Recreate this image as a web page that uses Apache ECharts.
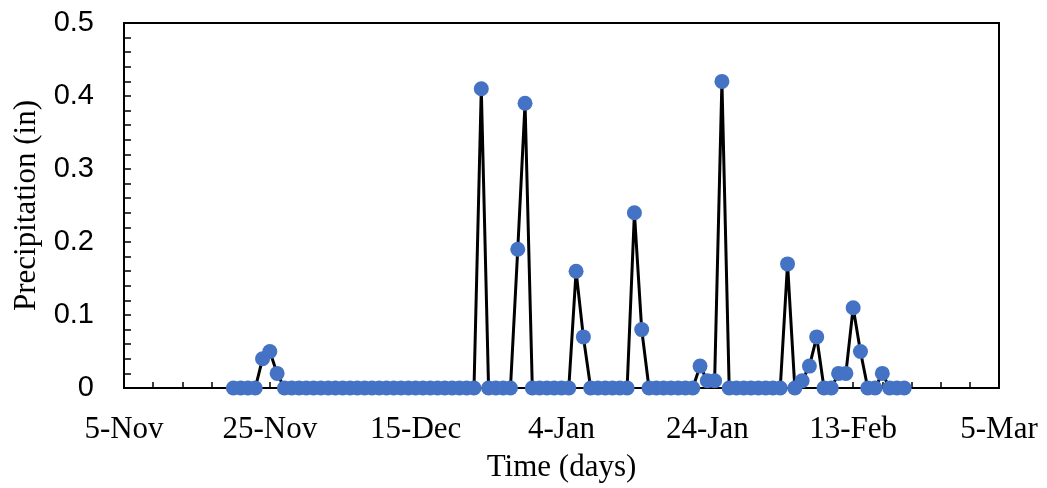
<!DOCTYPE html>
<html>
<head>
<meta charset="utf-8">
<style>
  html, body { margin: 0; padding: 0; background: #fff; }
  #chart { width: 1047px; height: 488px; }
</style>
<script src="https://cdn.jsdelivr.net/npm/echarts@6/dist/echarts.min.js"></script>
</head>
<body>
<div id="chart"></div>
<script>
// Daily precipitation, one value per day starting on firstDay
const axisStart = '2018-11-05';
const firstDay = '2018-11-20';
const precipIn = [
  0, 0, 0, 0, 0.04, 0.05, 0.02,                 // 20-Nov .. 26-Nov
  0, 0, 0, 0,                                   // 27-Nov .. 30-Nov
  0, 0, 0, 0, 0, 0, 0, 0, 0, 0,                 // 1-Dec .. 10-Dec
  0, 0, 0, 0, 0, 0, 0, 0, 0, 0,                 // 11-Dec .. 20-Dec
  0, 0, 0, 0.41, 0, 0, 0, 0, 0.19, 0.39, 0,     // 21-Dec .. 31-Dec
  0, 0, 0, 0, 0, 0.16, 0.07, 0, 0, 0,           // 1-Jan .. 10-Jan
  0, 0, 0, 0.24, 0.08, 0, 0, 0, 0, 0,           // 11-Jan .. 20-Jan
  0, 0, 0.03, 0.01, 0.01, 0.42, 0, 0, 0, 0, 0,  // 21-Jan .. 31-Jan
  0, 0, 0, 0.17, 0, 0.01, 0.03, 0.07, 0, 0,     // 1-Feb .. 10-Feb
  0.02, 0.02, 0.11, 0.05, 0, 0, 0.02, 0, 0, 0   // 11-Feb .. 20-Feb
];
const xTickLabels = ['5-Nov', '25-Nov', '15-Dec', '4-Jan', '24-Jan', '13-Feb', '5-Mar'];
const xTickStep = 20;   // days between labelled ticks
const yMax = 0.5;
const yStep = 0.1;

const DAY = 86400000;
const offset = (Date.parse(firstDay) - Date.parse(axisStart)) / DAY;
const seriesData = precipIn.map((v, i) => [offset + i, v]);

const chart = echarts.init(document.getElementById('chart'));
chart.setOption({
  animation: false,
  backgroundColor: '#fff',
  grid: {
    left: 124, right: 48, top: 23, bottom: 99,
    show: true, borderColor: '#000', borderWidth: 2, backgroundColor: 'transparent'
  },
  xAxis: {
    type: 'value',
    min: 0,
    max: xTickStep * (xTickLabels.length - 1),
    interval: xTickStep,
    name: 'Time (days)',
    nameLocation: 'middle',
    nameGap: 64,
    nameTextStyle: { fontFamily: 'Liberation Serif', fontSize: 31, color: '#000' },
    axisLine: { lineStyle: { color: '#000', width: 2 } },
    axisTick: { inside: true, length: 6, lineStyle: { color: '#000', width: 1.5 } },
    minorTick: { show: true, splitNumber: 5, length: 6, lineStyle: { color: '#000', width: 1.5 } },
    splitLine: { show: false },
    axisLabel: {
      margin: 26,
      fontFamily: 'Liberation Serif', fontSize: 31, color: '#000',
      formatter: v => xTickLabels[Math.round(v / xTickStep)]
    }
  },
  yAxis: {
    type: 'value',
    min: 0,
    max: yMax,
    interval: yStep,
    name: 'Precipitation (in)',
    nameLocation: 'middle',
    nameRotate: 90,
    nameGap: 80,
    nameTextStyle: { fontFamily: 'Liberation Serif', fontSize: 31, color: '#000' },
    axisLine: { show: true, lineStyle: { color: '#000', width: 2 } },
    axisTick: { show: true, inside: true, length: 7, lineStyle: { color: '#000', width: 1.5 } },
    minorTick: { show: true, splitNumber: 5, length: 7, lineStyle: { color: '#000', width: 1.5 } },
    splitLine: { show: false },
    axisLabel: {
      margin: 30,
      fontFamily: 'Liberation Sans', fontSize: 29, color: '#000'
    }
  },
  series: [{
    type: 'line',
    data: seriesData,
    showAllSymbol: true,
    symbol: 'circle',
    symbolSize: 15,
    lineStyle: { color: '#000', width: 3 },
    itemStyle: { color: '#4472C4' }
  }]
});
</script>
</body>
</html>
